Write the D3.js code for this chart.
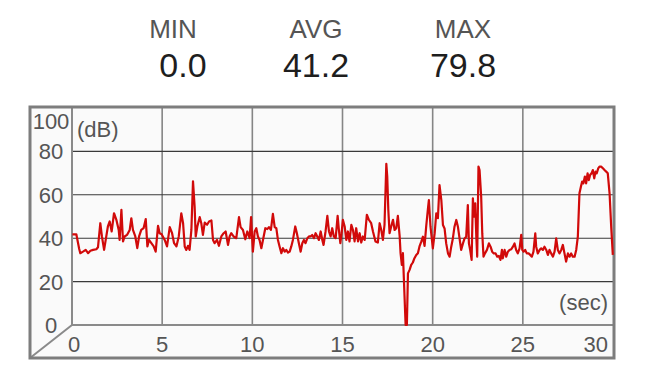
<!DOCTYPE html>
<html>
<head>
<meta charset="utf-8">
<script src="https://cdn.jsdelivr.net/npm/d3@7"></script>
<style>
  body { margin: 0; background: #fff; }
  text { font-family: "Liberation Sans", Arial, sans-serif; }
</style>
</head>
<body>
<div id="chart"></div>
<script>
// summary numbers shown above the chart
const statNames = ["MIN", "AVG", "MAX"];
const statValues = ["0.0", "41.2", "79.8"];

const xTicks = [0, 5, 10, 15, 20, 25, 30];
const yTicks = [0, 20, 40, 60, 80, 100];

// sample times (sec) and sound level (dB)
const secs = [
  0.02, 0.24, 0.40, 0.46, 0.61, 0.76, 0.89, 1.02, 1.17, 1.35, 1.44, 1.57, 1.66, 1.78, 1.87, 1.99,
  2.09, 2.20, 2.33, 2.46, 2.59, 2.64, 2.74, 2.83, 2.92, 3.05, 3.20, 3.29, 3.38, 3.51, 3.62, 3.72,
  3.84, 3.97, 4.09, 4.18, 4.27, 4.40, 4.53, 4.64, 4.77, 4.86, 4.97,
  5.14, 5.27, 5.42, 5.55, 5.66, 5.79, 5.92, 6.06, 6.16, 6.25, 6.34, 6.43, 6.52, 6.62, 6.71, 6.80,
  6.86, 6.95, 7.08, 7.17, 7.26, 7.36, 7.49, 7.60, 7.73, 7.82, 7.91, 8.04, 8.15, 8.28, 8.41, 8.52,
  8.65, 8.74, 8.83, 8.96, 9.11, 9.26, 9.35, 9.48, 9.61, 9.72, 9.85,
  9.93, 10.03, 10.13, 10.22, 10.31, 10.40, 10.50, 10.59, 10.72, 10.83, 10.92, 11.03, 11.14, 11.24,
  11.33, 11.42, 11.51, 11.61, 11.70, 11.79, 11.88, 11.98, 12.07, 12.16, 12.25, 12.38, 12.47, 12.58,
  12.68, 12.77, 12.86, 12.95, 13.05, 13.14, 13.23, 13.32, 13.42, 13.51, 13.60, 13.69, 13.79, 13.88,
  13.95, 14.06, 14.16, 14.25, 14.34, 14.43, 14.52, 14.62, 14.73, 14.80, 14.88, 14.95,
  15.02, 15.12, 15.21, 15.30, 15.39, 15.49, 15.58, 15.67, 15.76, 15.86, 15.95, 16.04, 16.13, 16.23,
  16.35, 16.46, 16.59, 16.69, 16.83, 16.96, 17.06, 17.15, 17.24, 17.33, 17.43, 17.48, 17.54, 17.61,
  17.70, 17.80, 17.89, 17.98, 18.07, 18.17, 18.22, 18.29, 18.35, 18.44, 18.50, 18.57, 18.63, 18.72,
  18.81, 18.90, 18.99, 19.09, 19.18, 19.27,
  19.37, 19.46, 19.55, 19.64, 19.74, 19.79, 19.88, 20.01, 20.11, 20.20, 20.29, 20.38, 20.48, 20.57,
  20.66, 20.75, 20.85,
  20.94, 21.03, 21.12, 21.21, 21.31, 21.40, 21.49, 21.58, 21.68, 21.77, 21.86, 21.95, 22.01, 22.08,
  22.16, 22.23, 22.29, 22.36, 22.42, 22.47, 22.54, 22.60, 22.69, 22.75, 22.82, 22.90, 23.01, 23.12,
  23.21, 23.30, 23.39, 23.49, 23.58, 23.67, 23.76, 23.84, 23.89, 23.99, 24.08, 24.17, 24.26, 24.36,
  24.45, 24.54, 24.63, 24.72, 24.82, 24.91, 24.97, 25.04, 25.13, 25.22, 25.32, 25.41, 25.50, 25.59,
  25.69, 25.74, 25.83, 25.93, 26.02, 26.11, 26.20, 26.30, 26.39, 26.48, 26.57, 26.67, 26.76, 26.85,
  26.94, 27.03, 27.13, 27.22, 27.31, 27.40, 27.50, 27.59, 27.68, 27.77, 27.87, 27.96, 28.05, 28.14,
  28.22, 28.29, 28.36, 28.44, 28.51, 28.59, 28.66, 28.73, 28.81, 28.88, 28.96, 29.03, 29.10, 29.18,
  29.25, 29.34, 29.44, 29.53, 29.62, 29.71, 29.81, 29.90, 29.99
];
const dB = [
  41.8, 41.8, 35.0, 33.1, 33.8, 34.6, 33.1, 34.2, 34.6, 34.9, 35.8, 46.9, 40.8, 34.6, 39.2, 45.4,
  47.7, 43.1, 51.5, 48.5, 43.8, 39.2, 53.1, 38.5, 40.8, 41.5, 43.8, 49.2, 43.8, 40.8, 35.4, 40.8,
  43.8, 44.6, 48.8, 36.2, 39.2, 37.7, 36.2, 33.8, 45.7, 42.3, 41.8,
  39.2, 36.2, 45.1, 42.3, 37.7, 36.2, 40.8, 51.5, 46.9, 36.2, 34.6, 36.5, 34.6, 43.8, 66.2, 54.6,
  40.8, 45.4, 49.7, 46.9, 41.5, 47.2, 46.2, 47.7, 48.2, 39.2, 37.7, 39.2, 36.5, 40.8, 42.3, 43.1,
  36.9, 40.8, 42.3, 40.8, 40.0, 49.7, 45.1, 43.8, 39.5, 43.1, 40.0,
  49.7, 33.8, 43.1, 44.6, 40.8, 39.2, 35.4, 39.2, 44.6, 44.2, 45.1, 43.8, 51.2, 45.1,
  44.6, 39.2, 36.2, 33.1, 35.4, 33.8, 34.6, 33.4, 33.8, 36.2, 39.2, 45.4, 42.3, 37.7,
  33.8, 37.7, 39.2, 37.7, 40.0, 40.8, 40.8, 41.5, 40.0, 42.3, 40.8, 39.2, 43.1, 39.2,
  36.9, 43.1, 50.3, 43.1, 40.8, 44.6, 40.8, 40.0, 50.3, 43.8, 37.7, 42.3,
  48.5, 45.4, 39.2, 43.1, 38.5, 46.2, 43.8, 38.5, 44.6, 38.5, 42.3, 38.0, 40.8, 39.2,
  50.8, 48.5, 46.9, 43.1, 38.5, 38.0, 46.9, 43.8, 39.2, 46.2, 74.3, 68.5, 53.1, 42.3,
  45.4, 48.5, 43.8, 44.6, 50.3, 40.8, 33.1, 27.7, 33.1, 13.1, 0.0, 0.0, 23.8, 25.4,
  27.7, 28.8, 30.8, 32.3, 33.1, 36.2,
  38.4, 40.7, 36.5, 45.3, 53.8, 57.6, 45.3, 35.3, 42.2, 51.5, 49.2, 64.5, 57.6, 46.1,
  44.5, 37.6, 33.0,
  31.5, 36.1, 39.9, 45.3, 48.4, 45.3, 39.9, 34.6, 37.6, 39.9, 40.7, 55.3, 37.6, 34.6,
  30.0, 58.4, 49.9, 56.1, 40.7, 31.5, 73.0, 71.4, 59.1, 42.2, 31.5, 33.0, 34.6, 37.6,
  36.1, 33.8, 33.0, 33.0, 31.5, 31.8, 30.0, 34.6, 30.7, 34.6, 31.5, 33.8, 34.6, 34.9,
  36.1, 37.6, 34.6, 33.0, 35.3, 41.5, 34.6, 33.8, 34.6, 33.0, 33.0, 32.3, 31.5, 33.8,
  42.2, 36.1, 33.0, 34.6, 35.3, 34.6, 36.1, 34.6, 32.3, 34.6, 33.0, 31.5, 33.8, 39.9,
  34.6, 33.0, 34.6, 36.9, 33.0, 29.2, 33.0, 31.5, 33.0, 31.5, 31.5, 34.6, 40.7, 60.7,
  63.7, 66.1, 65.3, 68.4, 65.3, 69.9, 66.8, 69.1, 69.9, 71.4, 67.6, 70.7, 69.9, 72.2,
  73.0, 73.0, 72.2, 71.4, 70.7, 69.9, 60.7, 45.3, 32.3
];

const W = 648, H = 377;
// outer box and the inner plot face
const box = { left: 30, top: 107, right: 614, bottom: 358 };
const plot = { left: 72, top: 108, right: 613, bottom: 325 };

const svg = d3.select("#chart").append("svg")
    .attr("width", W)
    .attr("height", H);

// header stats
const nameX = [173, 316, 463];
const valueX = [183, 316, 463];
statNames.forEach((n, i) => {
    svg.append("text")
        .attr("x", nameX[i]).attr("y", 38)
        .attr("text-anchor", "middle")
        .attr("font-size", 26)
        .attr("fill", "#555")
        .text(n);
    svg.append("text")
        .attr("x", valueX[i]).attr("y", 77)
        .attr("text-anchor", "middle")
        .attr("font-size", 34)
        .attr("fill", "#1e1e1e")
        .text(statValues[i]);
});

const x = d3.scaleLinear().domain([0, 30]).range([plot.left, plot.right]);
const y = d3.scaleLinear().domain([0, 100]).range([plot.bottom, plot.top]);

// background
svg.append("rect")
    .attr("x", box.left).attr("y", box.top)
    .attr("width", box.right - box.left).attr("height", box.bottom - box.top)
    .attr("fill", "#fafafa");

// grid
svg.append("g")
    .selectAll("line")
    .data(xTicks.filter(d => d > 0 && d < 30))
    .join("line")
    .attr("x1", d => x(d)).attr("x2", d => x(d))
    .attr("y1", y(100)).attr("y2", y(0))
    .attr("stroke", "#858585")
    .attr("stroke-width", 1.6);

svg.append("g")
    .selectAll("line")
    .data(yTicks.filter(d => d > 0 && d < 100))
    .join("line")
    .attr("x1", x(0)).attr("x2", x(30))
    .attr("y1", d => y(d)).attr("y2", d => y(d))
    .attr("stroke", "#3a3a3a")
    .attr("stroke-width", 1.1);

// inner face edges + diagonal
svg.append("path")
    .attr("d", `M${x(0)},${box.top}V${y(0)}H${box.right}M${x(0)},${y(0)}L${box.left},${box.bottom}`)
    .attr("fill", "none")
    .attr("stroke", "#8a8a8a")
    .attr("stroke-width", 2);

// outer frame
svg.append("rect")
    .attr("x", box.left).attr("y", box.top)
    .attr("width", box.right - box.left).attr("height", box.bottom - box.top)
    .attr("fill", "none")
    .attr("stroke", "#7d7d7d")
    .attr("stroke-width", 3);

// y labels
svg.append("g")
    .selectAll("text")
    .data(yTicks)
    .join("text")
    .attr("x", 51)
    .attr("y", d => d === 100 ? y(d) + 21 : y(d) + 8)
    .attr("text-anchor", "middle")
    .attr("font-size", 22)
    .attr("fill", "#555")
    .text(d => d);

// x labels
svg.append("g")
    .selectAll("text")
    .data(xTicks)
    .join("text")
    .attr("x", d => d === 0 ? x(d) - 4 : d === 30 ? x(d) - 5 : x(d))
    .attr("y", 352)
    .attr("text-anchor", d => d === 0 ? "start" : d === 30 ? "end" : "middle")
    .attr("font-size", 22)
    .attr("fill", "#555")
    .text(d => d);

// unit labels
svg.append("text")
    .attr("x", 77).attr("y", 137)
    .attr("font-size", 22)
    .attr("fill", "#555")
    .text("(dB)");

svg.append("text")
    .attr("x", 608).attr("y", 310)
    .attr("text-anchor", "end")
    .attr("font-size", 22)
    .attr("fill", "#555")
    .text("(sec)");

// the level trace
const line = d3.line()
    .x(d => x(d[0]))
    .y(d => y(d[1]));

svg.append("path")
    .datum(d3.zip(secs, dB))
    .attr("d", line)
    .attr("fill", "none")
    .attr("stroke", "#d10a0a")
    .attr("stroke-width", 2.2)
    .attr("stroke-linejoin", "round");
</script>
</body>
</html>
